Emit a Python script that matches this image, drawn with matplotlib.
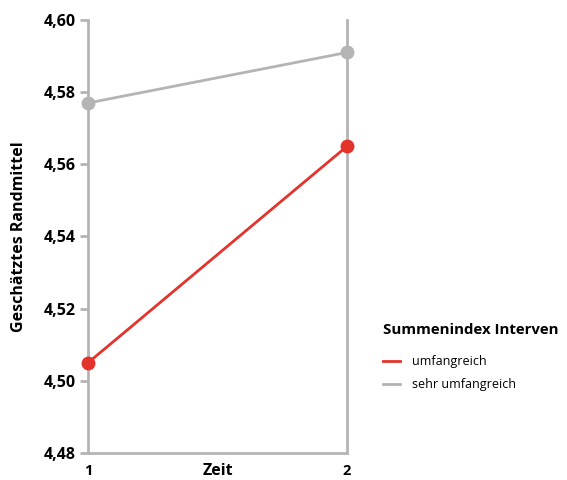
import matplotlib
matplotlib.use("Agg")
import matplotlib.pyplot as plt
from matplotlib.lines import Line2D

plt.rcParams['font.family'] = ['Open Sans', 'DejaVu Sans']

zeit = [1, 2]
umfangreich = [4.505, 4.565]
sehr_umfangreich = [4.577, 4.591]
yticks = [4.48, 4.50, 4.52, 4.54, 4.56, 4.58, 4.60]
ytick_labels = ["4,48", "4,50", "4,52", "4,54", "4,56", "4,58", "4,60"]

red = "#E3332C"
grey = "#B4B4B4"

fig = plt.figure(figsize=(5.67, 4.8), dpi=100)
ax = fig.add_axes([88/567, 27/480, (347-88)/567, (453-20)/480])

ax.plot(zeit, sehr_umfangreich, color=grey, lw=2, marker='o', ms=9, clip_on=False, zorder=3)
ax.plot(zeit, umfangreich, color=red, lw=2, marker='o', ms=9, clip_on=False, zorder=4)

ax.set_xlim(1, 2)
ax.set_ylim(4.48, 4.60)
ax.set_yticks(yticks)
ax.set_yticklabels(ytick_labels, fontsize=11.5, fontweight='bold')
ax.set_xticks(zeit)
ax.set_xticklabels(["1", "2"], fontsize=10.5, fontweight='bold')
ax.tick_params(axis='x', length=0, pad=8)
ax.tick_params(axis='y', length=6, width=2, color=grey, pad=3)

for s in ['left', 'right', 'bottom']:
    ax.spines[s].set_color(grey)
    ax.spines[s].set_linewidth(2)
ax.spines['top'].set_visible(False)

ax.set_xlabel("Zeit", fontsize=11.5, fontweight='bold')
ax.xaxis.set_label_coords(0.5, -0.022)
ax.set_ylabel("Geschätztes Randmittel", fontsize=11.5, fontweight='bold', labelpad=12)

handles = [Line2D([0], [0], color=red, lw=2), Line2D([0], [0], color=grey, lw=2)]
leg = fig.legend(handles, ["umfangreich", "sehr umfangreich"],
                 title="Summenindex Interven", loc='upper left',
                 bbox_to_anchor=(372/567, 1 - 312/480), frameon=False,
                 fontsize=9, handlelength=1.3, handletextpad=1.0,
                 labelspacing=0.8, alignment='left')
leg.get_title().set_fontweight('bold')
leg.get_title().set_fontsize(10.8)
leg._legend_box.sep = 13

fig.savefig("out.png", dpi=100)
